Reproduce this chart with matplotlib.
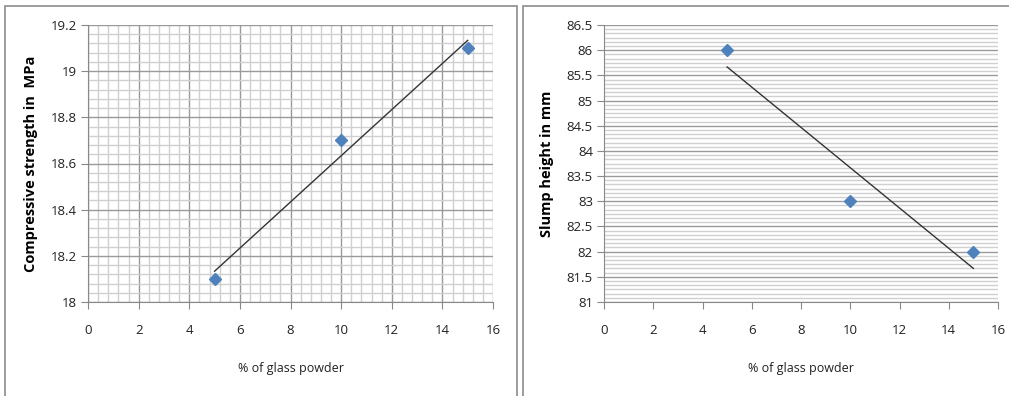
import numpy as np
import matplotlib.pyplot as plt
from matplotlib.ticker import MultipleLocator
from matplotlib.patches import Rectangle

# glass powder content (%)
glass_pct = [5, 10, 15]
# compressive strength (MPa)
strength = [18.1, 18.7, 19.1]
# slump height (mm)
slump = [86, 83, 82]

x_ticks = [0, 2, 4, 6, 8, 10, 12, 14, 16]
strength_ticks = [18, 18.2, 18.4, 18.6, 18.8, 19, 19.2]
slump_ticks = [81, 81.5, 82, 82.5, 83, 83.5, 84, 84.5, 85, 85.5, 86, 86.5]

plt.rcParams['font.family'] = ['Open Sans', 'DejaVu Sans']

fig = plt.figure(figsize=(10.09, 3.96), dpi=100)

# panel frames
for x0, w in [(5, 512), (523, 490)]:
    fig.patches.append(Rectangle((x0 / 1009, -0.1), w / 1009, (396 - 6 + 40) / 396,
                                 transform=fig.transFigure, fill=False,
                                 edgecolor='#8c8c8c', linewidth=1.2))

major_col = '#9a9a9a'
minor_col = '#d0d0d0'


def setup(ax, ylim, yticks, ylabel, yminor, vgrid):
    ax.set_xlim(0, 16)
    ax.set_ylim(*ylim)
    ax.set_xticks(x_ticks)
    ax.set_xticklabels([str(t) for t in x_ticks])
    ax.set_yticks(yticks)
    ax.set_yticklabels(['%g' % t for t in yticks])
    ax.yaxis.set_minor_locator(MultipleLocator(yminor))
    if vgrid:
        ax.xaxis.set_minor_locator(MultipleLocator(0.4))
        ax.grid(True, which='major', axis='both', color=major_col, linewidth=1.0)
        ax.grid(True, which='minor', axis='both', color=minor_col, linewidth=1.0)
    else:
        ax.grid(True, which='major', axis='y', color=major_col, linewidth=1.0)
        ax.grid(True, which='minor', axis='y', color=minor_col, linewidth=1.0)
    ax.tick_params(which='minor', length=0)
    ax.tick_params(which='major', length=5, color='#888888', labelsize=9.5,
                   labelcolor='#222222', pad=3)
    ax.tick_params(axis='x', pad=11)
    for s in ['top', 'right']:
        ax.spines[s].set_visible(False)
    for s in ['left', 'bottom']:
        ax.spines[s].set_color('#888888')
    ax.set_axisbelow(True)
    ax.set_ylabel(ylabel, fontsize=10.5, fontweight='bold', labelpad=9)
    ax.set_xlabel('% of glass powder', fontsize=9, labelpad=18, color='#222222')


def trend(x, y):
    k, b = np.polyfit(x, y, 1)
    xs = np.array([min(x), max(x)])
    return xs, k * xs + b


ax1 = fig.add_axes([88 / 1009, 94 / 396, 405 / 1009, 277 / 396])
setup(ax1, (18, 19.2), strength_ticks, 'Compressive strength in  MPa', 0.04, True)
tx, ty = trend(glass_pct, strength)
ax1.plot(tx, ty, color='#333333', linewidth=1.0, zorder=3)
ax1.plot(glass_pct, strength, linestyle='none', marker='D', markersize=6.5,
         color='#4f81bd', zorder=4, clip_on=False)

ax2 = fig.add_axes([604 / 1009, 94 / 396, 394 / 1009, 277 / 396])
setup(ax2, (81, 86.5), slump_ticks, 'Slump height in mm', 0.5 / 6, False)
tx, ty = trend(glass_pct, slump)
ax2.plot(tx, ty, color='#333333', linewidth=1.0, zorder=3)
ax2.plot(glass_pct, slump, linestyle='none', marker='D', markersize=6.5,
         color='#4f81bd', zorder=4, clip_on=False)

fig.savefig('out.png', dpi=100)
